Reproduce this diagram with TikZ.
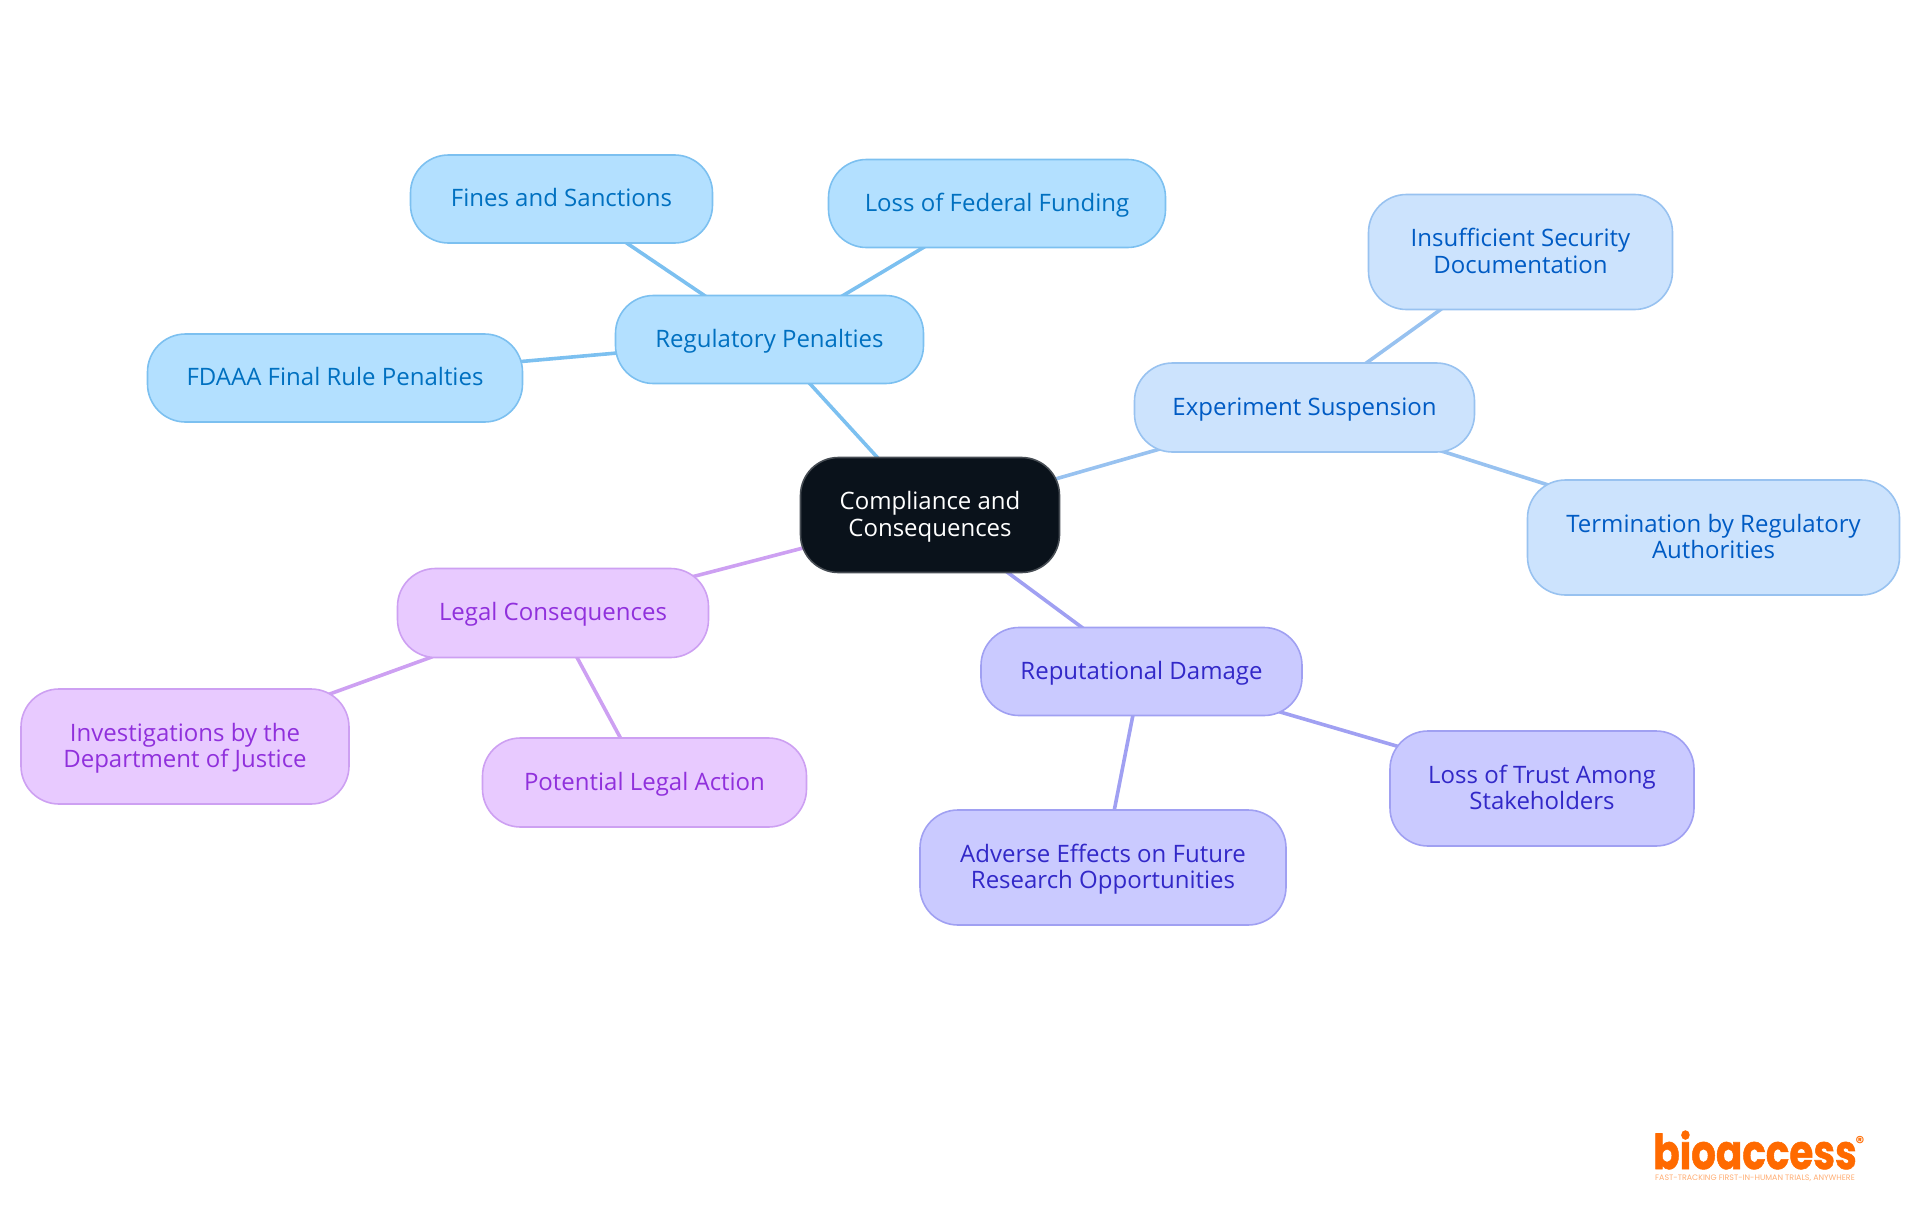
\documentclass[tikz,border=0pt]{standalone}
\usepackage{graphicx}
\usepackage{fontspec}
\setmainfont{Open Sans}
\newfontfamily\logofont{Poppins}
\newfontfamily\logoheavy[FakeBold=1.2]{Poppins}
\usetikzlibrary{backgrounds}
\definecolor{regF}{HTML}{B3E0FF}\definecolor{regS}{HTML}{7CC0F0}\definecolor{regT}{HTML}{0070C0}
\definecolor{expF}{HTML}{CCE3FD}\definecolor{expS}{HTML}{98C2F0}\definecolor{expT}{HTML}{005BC4}
\definecolor{legF}{HTML}{E8CAFF}\definecolor{legS}{HTML}{CDA0F2}\definecolor{legT}{HTML}{9030DC}
\definecolor{repF}{HTML}{CACAFF}\definecolor{repS}{HTML}{A0A0F2}\definecolor{repT}{HTML}{3228C8}
\definecolor{ctrF}{HTML}{0A121B}\definecolor{logoO}{HTML}{FF6A00}
\newcommand\topst{\rule{0pt}{24pt}}
\newcommand\botst{\rule[-8.4pt]{0pt}{8.4pt}}
\tikzset{
 x=1pt,y=-1pt,
 box/.style={rounded corners=38pt,line width=1.6pt,align=center,inner sep=0pt,
   font=\fontsize{24}{26.4}\selectfont},
 reg/.style={box,draw=regS,fill=regF,text=regT},
 exp/.style={box,draw=expS,fill=expF,text=expT},
 leg/.style={box,draw=legS,fill=legF,text=legT},
 rep/.style={box,draw=repS,fill=repF,text=repT},
 ctr/.style={box,draw=ctrF!75!white,fill=ctrF,text=white},
 sz/.style 2 args={minimum width=#1pt,minimum height=#2pt},
 link/.style={line width=3.6pt},
}
\begin{document}
\begin{tikzpicture}
\useasboundingbox (0,0) rectangle (1920,1215);
\node[ctr,sz={259}{115}] (c) at (930,515) {\topst Compliance and\\Consequences\botst};
\node[reg,sz={308}{88}] (r) at (769.5,339.5) {\topst Regulatory Penalties\botst};
\node[reg,sz={302}{88}] (r1) at (561.5,199) {\topst Fines and Sanctions\botst};
\node[reg,sz={337}{88}] (r2) at (997,203.5) {\topst Loss of Federal Funding\botst};
\node[reg,sz={375}{88}] (r3) at (335,378) {\topst FDAAA Final Rule Penalties\botst};
\node[exp,sz={340}{89}] (e) at (1304.5,407.5) {\topst Experiment Suspension\botst};
\node[exp,sz={304}{115}] (e1) at (1520.5,252) {\topst Insufficient Security\\Documentation\botst};
\node[exp,sz={372}{115}] (e2) at (1713.5,537.5) {\topst Termination by Regulatory\\Authorities\botst};
\node[leg,sz={311}{89}] (l) at (553,613) {\topst Legal Consequences\botst};
\node[leg,sz={328}{115}] (l1) at (185,746.5) {\topst Investigations by the\\Department of Justice\botst};
\node[leg,sz={324}{89}] (l2) at (644.5,782.5) {\topst Potential Legal Action\botst};
\node[rep,sz={321}{88}] (p) at (1141.5,671.5) {\topst Reputational Damage\botst};
\node[rep,sz={304}{115}] (p1) at (1542,788.5) {\topst Loss of Trust Among\\Stakeholders\botst};
\node[rep,sz={366}{115}] (p2) at (1103,867.5) {\topst Adverse Effects on Future\\Research Opportunities\botst};
\begin{pgfonlayer}{background}
\draw[link,regS] (c.center)--(r.center) (r.center)--(r1.center) (r.center)--(r2.center) (r.center)--(r3.center);
\draw[link,expS] (c.center)--(e.center) (e.center)--(e1.center) (e.center)--(e2.center);
\draw[link,legS] (c.center)--(l.center) (l.center)--(l1.center) (l.center)--(l2.center);
\draw[link,repS] (c.center)--(p.center) (p.center)--(p1.center) (p.center)--(p2.center);
\end{pgfonlayer}
\node[inner sep=0pt,text=logoO,font=\logoheavy\bfseries\fontsize{48}{48}\selectfont] (logo) at (1755,1150) {\scalebox{.81}[1]{bioaccess}};
\node[inner sep=0pt,text=logoO,font=\logofont\bfseries\fontsize{17}{17}\selectfont] (regmark) at (1860,1142) {®};
\node[inner sep=0pt,text=logoO!55!white,font=\logofont\fontsize{7.9}{8}\selectfont] (tag) at (1755,1178) {FAST-TRACKING FIRST-IN-HUMAN TRIALS, ANYWHERE};
\end{tikzpicture}
\end{document}
